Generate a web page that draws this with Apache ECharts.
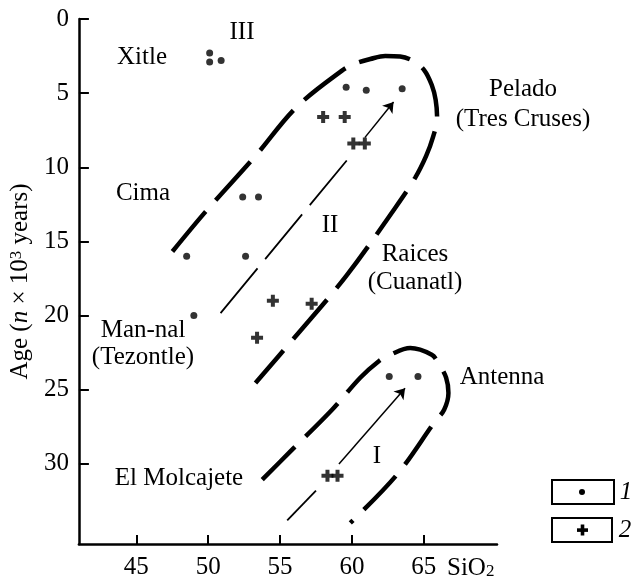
<!DOCTYPE html>
<html>
<head>
<meta charset="utf-8">
<script src="https://cdn.jsdelivr.net/npm/echarts@6/dist/echarts.min.js"></script>
<style>
  html, body {margin: 0; padding: 0; background: #fff;}
  #container {width: 634px; height: 584px;}
</style>
</head>
<body>
<div id="container"></div>
<script>
var xTicks = [45, 50, 55, 60, 65];
var yTicks = [0, 5, 10, 15, 20, 25, 30];

// 1 - points (lava)
var dots = [
    [50.1, 2.3], [50.1, 2.9], [50.9, 2.8],
    [52.4, 12.0], [53.5, 12.0], [48.5, 16.0], [52.6, 16.0], [49.0, 20.0],
    [59.6, 4.6], [61.0, 4.8], [63.5, 4.7],
    [62.6, 24.1], [64.6, 24.1]
];
// 2 - crosses
var crosses = [
    [58.0, 6.6], [59.5, 6.6], [60.1, 8.4], [60.9, 8.4],
    [54.5, 19.0], [57.2, 19.2], [53.4, 21.5],
    [58.3, 30.8], [59.0, 30.8]
];

// field boundaries (SiO2, age)
var fieldUpper = [
    [47.51, 15.68], [49.82, 12.99], [53.29, 9.23], [56.14, 5.95], [59.31, 3.48],
    [60.24, 3.00], [61.28, 2.70], [62.32, 2.49], [63.36, 2.53], [64.26, 2.83],
    [65.03, 3.44], [65.56, 4.45], [65.83, 5.46], [65.93, 6.67], [65.65, 7.95],
    [65.17, 9.23], [64.40, 10.71], [63.01, 12.74], [59.61, 17.32], [56.07, 21.41],
    [53.29, 24.55]
];
var dividerUpper = [[50.86, 19.83], [59.77, 9.39]];
var fieldLower = [
    [53.76, 31.06], [55.72, 29.16], [58.62, 26.35], [60.58, 24.19], [61.85, 23.09],
    [62.67, 22.64], [64.06, 22.19], [65.56, 22.64], [66.02, 23.20], [66.56, 24.19],
    [66.72, 25.22], [66.42, 26.35], [65.79, 27.13], [63.13, 30.73], [59.89, 33.98]
];
var dividerLower = [[55.5, 33.8], [57.5, 31.8]];
var trends = [
    [[60.9, 8.0], [62.9, 5.6]],
    [[59.1, 30.0], [63.7, 24.9]]
];

var FONT = '"Liberation Serif", "Times New Roman", serif';
var plusPath = 'path://M4,0H8V4H12V8H8V12H4V8H0V4H4Z';

function label(text, x, y, extra) {
    return {
        type: 'text', x: x, y: y, silent: true,
        style: Object.assign({
            text: text, fill: '#000', font: '25px ' + FONT,
            textAlign: 'center', textVerticalAlign: 'middle'
        }, extra || {})
    };
}

var dom = document.getElementById('container');
var myChart = echarts.init(dom);
var option = {
    animation: false,
    grid: {left: 78, top: 19, width: 419, height: 525},
    xAxis: {
        type: 'value', min: 41, max: 70.1,
        splitLine: {show: false},
        axisLine: {onZero: false, lineStyle: {color: '#000', width: 2.5}},
        axisTick: {inside: true, length: 9, customValues: xTicks, lineStyle: {color: '#000', width: 2}},
        axisLabel: {customValues: xTicks, color: '#000', fontFamily: FONT, fontSize: 25, margin: 11}
    },
    yAxis: {
        type: 'value', inverse: true, min: 0, max: 35.4,
        splitLine: {show: false},
        axisLine: {onZero: false, lineStyle: {color: '#000', width: 2.5}},
        axisTick: {inside: true, length: 10, customValues: yTicks, lineStyle: {color: '#000', width: 2}},
        axisLabel: {customValues: yTicks, color: '#000', fontFamily: FONT, fontSize: 25, margin: 10},
        name: '{a|Age (}{i|n}{a| × 10}{s|3}{a| years)}',
        nameLocation: 'middle',
        nameGap: 45,
        nameTextStyle: {
            rich: {
                a: {fontFamily: FONT, fontSize: 25, color: '#000'},
                i: {fontFamily: FONT, fontSize: 25, fontStyle: 'italic', color: '#000'},
                s: {fontFamily: FONT, fontSize: 17, color: '#000', verticalAlign: 'top'}
            }
        }
    },
    series: [
        {
            type: 'line', data: fieldUpper, smooth: 0.35, symbol: 'none', silent: true,
            lineStyle: {color: '#000', width: 4.5, type: [52, 15]}
        },
        {
            type: 'line', data: dividerUpper, symbol: 'none', silent: true,
            lineStyle: {color: '#000', width: 1.8, type: [58, 12]}
        },
        {
            type: 'line', data: fieldLower, smooth: 0.35, symbol: 'none', silent: true,
            lineStyle: {color: '#000', width: 4.5, type: [46, 15]}
        },
        {
            type: 'line', data: dividerLower, symbol: 'none', silent: true,
            lineStyle: {color: '#000', width: 1.8},
            markLine: {
                silent: true,
                symbol: ['none', 'arrow'],
                symbolSize: 10,
                label: {show: false},
                lineStyle: {color: '#000', width: 1.5, type: 'solid'},
                data: trends.map(function (t) {
                    return [{coord: t[0]}, {coord: t[1]}];
                })
            }
        },
        {
            type: 'scatter', data: dots, symbol: 'circle', symbolSize: 7, silent: true,
            itemStyle: {color: '#000'}
        },
        {
            type: 'scatter', data: crosses, symbol: plusPath, symbolSize: 12, silent: true,
            itemStyle: {color: '#000'}
        }
    ],
    graphic: [
        label('III', 242, 32),
        label('Xitle', 142, 57),
        label('Cima', 143, 193),
        label('Man-nal', 143, 330),
        label('(Tezontle)', 143, 357),
        label('El Molcajete', 179, 478),
        label('II', 330, 225),
        label('Pelado', 523, 89),
        label('(Tres Cruses)', 523, 119),
        label('Raices', 415, 254),
        label('(Cuanatl)', 415, 282),
        label('Antenna', 502, 377),
        label('I', 377, 456),
        {
            type: 'text', x: 447, y: 568, silent: true,
            style: {
                text: '{a|SiO}{b|2}', textVerticalAlign: 'middle',
                rich: {
                    a: {fontFamily: FONT, fontSize: 25, fill: '#000'},
                    b: {fontFamily: FONT, fontSize: 17, fill: '#000', verticalAlign: 'bottom', padding: [8, 0, 0, 0]}
                }
            }
        },
        // legend boxes
        {type: 'rect', shape: {x: 552, y: 480, width: 62, height: 24}, style: {fill: '#fff', stroke: '#000', lineWidth: 2}},
        {type: 'circle', shape: {cx: 582, cy: 492, r: 3}, style: {fill: '#000'}},
        label('1', 626, 492, {font: 'italic 25px ' + FONT}),
        {type: 'rect', shape: {x: 552, y: 518, width: 60, height: 24}, style: {fill: '#fff', stroke: '#000', lineWidth: 2}},
        {type: 'rect', shape: {x: 577, y: 528.3, width: 11, height: 3.6}, style: {fill: '#000'}},
        {type: 'rect', shape: {x: 580.7, y: 524.5, width: 3.6, height: 11}, style: {fill: '#000'}},
        label('2', 625, 530, {font: 'italic 25px ' + FONT})
    ]
};
if (option && typeof option === 'object') {
    myChart.setOption(option, true);
}
</script>
</body>
</html>
